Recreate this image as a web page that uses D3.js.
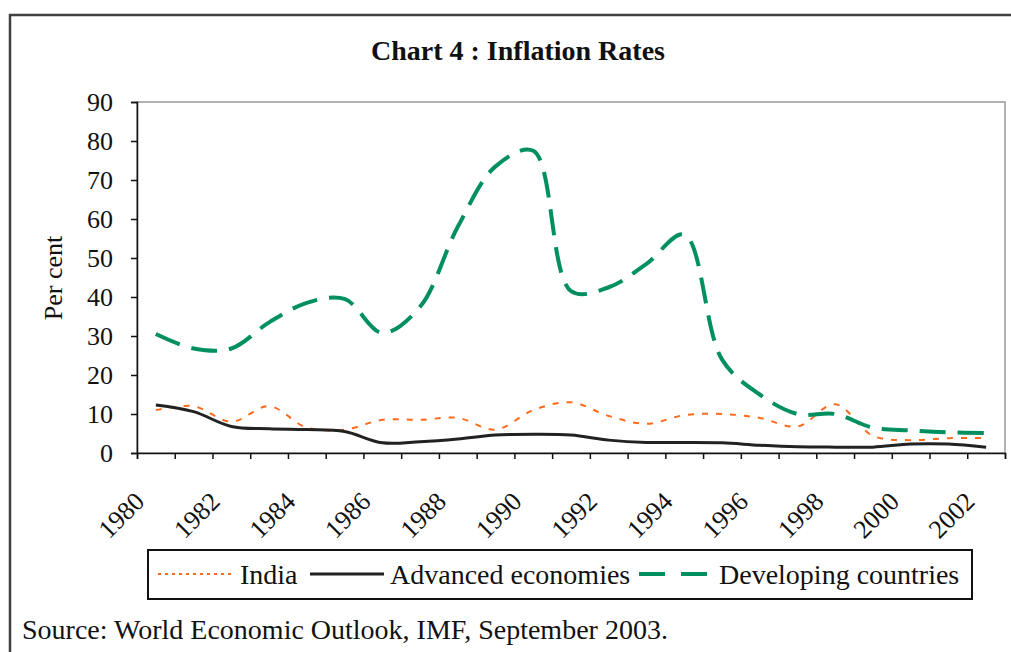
<!DOCTYPE html>
<html>
<head>
<meta charset="utf-8">
<script src="https://cdn.jsdelivr.net/npm/d3@7"></script>
<style>
  body { margin: 0; background: #fff; }
  text { font-family: "Liberation Serif", "Times New Roman", serif; fill: #111; }
</style>
</head>
<body>
<svg id="chart" width="1011" height="652"></svg>
<script>
// years on the category axis
var years = d3.range(1980, 2003)
var yearLabels = years.filter(function(y) { return y % 2 === 0 })

// inflation rates, per cent
var india = [11, 12, 8, 12, 6.5, 6, 8.5, 8.5, 9, 6, 11, 13, 9.5, 7.5, 9.7, 10, 9, 6.8, 12.5, 4.4, 3.3, 3.8, 3.8]
var advanced = [12.3, 10.6, 6.8, 6.2, 6, 5.5, 2.6, 2.9, 3.6, 4.6, 4.8, 4.6, 3.3, 2.7, 2.7, 2.6, 2.0, 1.6, 1.5, 1.5, 2.3, 2.3, 1.5]
var developing = [30.5, 26.8, 26.8, 33.5, 38.5, 39.5, 30.8, 37.5, 58, 73.5, 77.5, 41.5, 42.5, 48.5, 56, 24, 15, 10, 10, 6.5, 5.8, 5.3, 5.1]
var yTicks = [0, 10, 20, 30, 40, 50, 60, 70, 80, 90]

var series = [
	{ name: 'India', values: india, color: '#ff6a1a', width: 2, dash: '6,8', legendDash: '3,4' },
	{ name: 'Advanced economies', values: advanced, color: '#222', width: 3, dash: null, legendDash: null },
	{ name: 'Developing countries', values: developing, color: '#009060', width: 4, dash: '26,12', legendDash: '26,16' }
]

var svg = d3.select('#chart')
var plotLeft = 137, plotRight = 1005, plotTop = 102, plotBottom = 453

var x = d3.scaleBand().domain(years).range([plotLeft, plotRight]).paddingInner(0).paddingOuter(0)
var xi = d3.scaleLinear().domain([0, years.length]).range([plotLeft, plotRight])
var y = d3.scaleLinear().domain([0, 90]).range([plotBottom, plotTop])

// outer frame
svg.append('path')
	.attr('d', 'M1011,15 L10,15 L10,652')
	.attr('fill', 'none')
	.attr('stroke', '#404040')
	.attr('stroke-width', 2.5)

// title
svg.append('text')
	.attr('x', 518)
	.attr('y', 60)
	.attr('text-anchor', 'middle')
	.style('font-size', '28px')
	.style('font-weight', 'bold')
	.text('Chart 4 :  Inflation Rates')

// plot area border
svg.append('rect')
	.attr('x', plotLeft)
	.attr('y', plotTop)
	.attr('width', plotRight - plotLeft)
	.attr('height', plotBottom - plotTop)
	.attr('fill', 'none')
	.attr('stroke', '#999')
	.attr('stroke-width', 1.5)

// y axis
var yAxis = svg.append('g')
	.attr('transform', 'translate(' + plotLeft + ',0)')
	.call(d3.axisLeft(y).tickValues(yTicks).tickSize(6).tickPadding(18))
yAxis.select('.domain').attr('stroke', '#111').attr('stroke-width', 1.5)
yAxis.selectAll('.tick line').attr('stroke', '#111').attr('stroke-width', 1.5)
yAxis.selectAll('.tick text')
	.style('font-size', '26px')
	.style('font-family', '"Liberation Serif", serif')
	.attr('fill', '#111')

// x axis: ticks between categories
var xAxis = svg.append('g')
	.attr('transform', 'translate(0,' + plotBottom + ')')
	.call(d3.axisBottom(xi).tickValues(d3.range(years.length + 1)).tickSize(6).tickFormat(''))
xAxis.select('.domain').attr('stroke', '#111').attr('stroke-width', 1.5)
xAxis.selectAll('.tick line').attr('stroke', '#111').attr('stroke-width', 1.5)

svg.append('g')
	.selectAll('text')
	.data(yearLabels)
	.enter()
	.append('text')
	.attr('transform', function(d) {
		return 'translate(' + (x(d) + x.bandwidth() / 2 - 10) + ',503) rotate(-45)'
	})
	.attr('text-anchor', 'end')
	.style('font-size', '26px')
	.text(function(d) { return d })

// y axis title
svg.append('text')
	.attr('transform', 'translate(62,278) rotate(-90)')
	.attr('text-anchor', 'middle')
	.style('font-size', '26px')
	.text('Per cent')

// lines
var line = d3.line()
	.x(function(d, i) { return x(years[i]) + x.bandwidth() / 2 })
	.y(function(d) { return y(d) })
	.curve(d3.curveCatmullRom.alpha(0.5))

svg.append('g')
	.selectAll('path')
	.data(series)
	.enter()
	.append('path')
	.attr('d', function(d) { return line(d.values) })
	.attr('fill', 'none')
	.attr('stroke', function(d) { return d.color })
	.attr('stroke-width', function(d) { return d.width })
	.attr('stroke-dasharray', function(d) { return d.dash })

// legend
var legend = svg.append('g').attr('id', 'legend')
legend.append('rect')
	.attr('x', 148)
	.attr('y', 550)
	.attr('width', 824)
	.attr('height', 49)
	.attr('fill', '#fff')
	.attr('stroke', '#111')
	.attr('stroke-width', 2)

var legendX = [158, 310, 639]
var legendLen = [74, 74, 71]
var legendTextX = [240, 390, 719]
series.forEach(function(s, i) {
	legend.append('line')
		.attr('x1', legendX[i])
		.attr('x2', legendX[i] + legendLen[i])
		.attr('y1', 574)
		.attr('y2', 574)
		.attr('stroke', s.color)
		.attr('stroke-width', s.width)
		.attr('stroke-dasharray', s.legendDash)
	legend.append('text')
		.attr('x', legendTextX[i])
		.attr('y', 584)
		.style('font-size', '28px')
		.text(s.name)
})

// source note
svg.append('text')
	.attr('x', 22)
	.attr('y', 639)
	.style('font-size', '28px')
	.text('Source: World Economic Outlook, IMF, September 2003.')
</script>
</body>
</html>
